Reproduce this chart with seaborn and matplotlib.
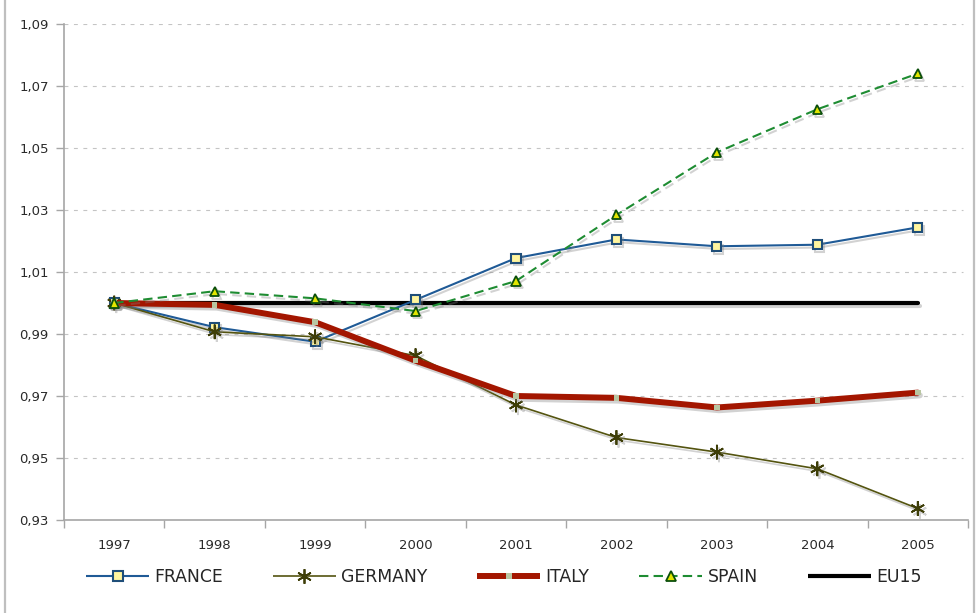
import matplotlib
matplotlib.use("Agg")
import matplotlib.pyplot as plt
import matplotlib.patheffects as pe
from matplotlib.lines import Line2D
from matplotlib.ticker import FixedLocator, FuncFormatter
import numpy as np
import pandas as pd
import seaborn as sns

# Index values (1997 = 1) per country
years = [1997, 1998, 1999, 2000, 2001, 2002, 2003, 2004, 2005]
france = [1.000, 0.9922, 0.9875, 1.0010, 1.0145, 1.0205, 1.0183, 1.0188, 1.0244]
germany = [1.000, 0.9907, 0.9891, 0.9830, 0.9671, 0.9566, 0.9519, 0.9465, 0.9337]
italy = [1.000, 0.9994, 0.9938, 0.9814, 0.9700, 0.9694, 0.9663, 0.9685, 0.9711]
spain = [1.000, 1.0038, 1.0015, 0.9974, 1.0071, 1.0284, 1.0486, 1.0625, 1.0740]
eu15 = [1.000, 1.000, 1.000, 1.000, 1.000, 1.000, 1.000, 1.000, 1.000]

y_ticks = [0.93, 0.95, 0.97, 0.99, 1.01, 1.03, 1.05, 1.07, 1.09]

sns.set_theme(style="white")
plt.rcParams["font.family"] = ["DejaVu Sans"]

fig = plt.figure(figsize=(9.76, 6.13), dpi=100)
ax = fig.add_axes([64 / 976, 1 - 520 / 613, 904 / 976, 496 / 613])

styles = {
    "EU15": dict(data=eu15, color="#000000", lw=3.0, ls="-", marker=None,
                 ms=0, mfc="none", mec="none", mew=0, z=3),
    "FRANCE": dict(data=france, color="#1F5A96", lw=1.5, ls="-", marker="s",
                   ms=6.5, mfc="#FFF59E", mec="#1F4E79", mew=1.5, z=4),
    "GERMANY": dict(data=germany, color="#545410", lw=1.2, ls="-", marker=(6, 2, 0),
                    ms=10.5, mfc="#545410", mec="#3E3E08", mew=1.3, z=5),
    "ITALY": dict(data=italy, color="#A31600", lw=4.3, ls="-", marker="s",
                  ms=4, mfc="#B9C6A2", mec="#B9C6A2", mew=0, z=6),
    "SPAIN": dict(data=spain, color="#1E8C32", lw=1.5, ls=(0, (4.5, 2.5)), marker="^",
                  ms=6.5, mfc="#E2E600", mec="#0B4F0B", mew=1.3, z=7),
}

lines = {}
for name, st in styles.items():
    df = pd.DataFrame({"year": years, "value": st["data"]})
    n_before = len(ax.lines)
    sns.lineplot(data=df, x="year", y="value", ax=ax, color=st["color"],
                 linewidth=st["lw"], marker=st["marker"], markersize=st["ms"],
                 markerfacecolor=st["mfc"], markeredgecolor=st["mec"],
                 markeredgewidth=st["mew"], zorder=st["z"], legend=False)
    ln = ax.lines[n_before]
    ln.set_linestyle(st["ls"])
    ln.set_solid_joinstyle("round")
    ln.set_dash_joinstyle("round")
    lines[name] = ln

# Axes limits and ticks
ax.set_xlim(1996.5, 2005.5)
ax.set_ylim(0.93, 1.09)
ax.xaxis.set_major_locator(FixedLocator(years))
ax.xaxis.set_minor_locator(FixedLocator([y + 0.5 for y in [1996] + years]))
ax.yaxis.set_major_locator(FixedLocator(y_ticks))
ax.yaxis.set_major_formatter(FuncFormatter(lambda v, p: f"{v:.2f}".replace(".", ",")))
ax.set_xlabel("")
ax.set_ylabel("")

ax.tick_params(axis="x", which="major", length=0, pad=14, labelsize=9.5, labelcolor="#2A2A2A")
ax.tick_params(axis="x", which="minor", length=6, width=1, color="#A6A6A6", direction="out", bottom=True)
ax.tick_params(axis="y", which="major", length=6, width=1, color="#A6A6A6", direction="out",
               left=True, pad=5, labelsize=9.5, labelcolor="#2A2A2A")

for side in ["top", "right"]:
    ax.spines[side].set_visible(False)
for side in ["left", "bottom"]:
    ax.spines[side].set_color("#A6A6A6")
    ax.spines[side].set_linewidth(1.2)

ax.grid(False)
for yv in y_ticks[1:]:
    ax.axhline(yv, xmin=0, xmax=0.994, color="#C4C4C4", lw=0.8,
               ls=(0, (3.5, 5)), zorder=1)

# Legend below the plot
order = ["FRANCE", "GERMANY", "ITALY", "SPAIN", "EU15"]
handles = []
for name in order:
    st = styles[name]
    handles.append(Line2D([0], [0], color=st["color"], lw=st["lw"], ls=st["ls"],
                          marker=st["marker"] if st["marker"] is not None else "",
                          markersize=st["ms"], markerfacecolor=st["mfc"],
                          markeredgecolor=st["mec"], markeredgewidth=st["mew"],
                          solid_capstyle="butt", dash_capstyle="butt"))
fig.legend(handles, order, loc="center left", bbox_to_anchor=(86 / 976, 1 - 577 / 613),
           ncol=5, frameon=False, fontsize=12.4, handlelength=3.66, handletextpad=0.3,
           columnspacing=2.9, borderpad=0, borderaxespad=0, numpoints=1)

# Soft drop shadow beneath each series
for name, ln in lines.items():
    ln.set_path_effects([
        pe.SimpleLineShadow(offset=(1.5, -2), shadow_color="#808080", alpha=0.35),
        pe.Normal(),
    ])

# Thin grey frame on the sides of the chart area
for xf in (4.5 / 976, 973.5 / 976):
    fig.add_artist(Line2D([xf, xf], [0, 1], transform=fig.transFigure,
                          color="#BFBFBF", lw=1.6))

fig.savefig("out.png", dpi=100, facecolor="white")
